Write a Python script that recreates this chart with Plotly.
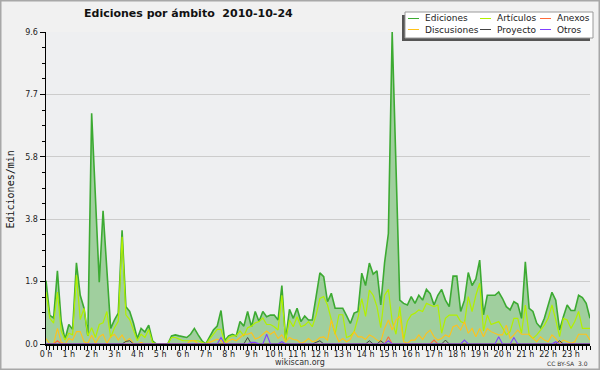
import plotly.graph_objects as go

# ---- data: 10-minute slots over one day (144 slots) ----
slots = [i * 10 for i in range(144)]  # minutes since 00:00

ediciones = [
    1.95, 0.88, 0.80, 2.25, 0.70, 0.14, 0.60, 0.45, 2.50, 1.50, 1.10, 0.25,
    7.10, 4.30, 1.90, 4.10, 2.20, 0.48, 0.74, 0.95, 3.50, 1.15, 1.00, 0.64,
    0.17, 0.48, 0.37, 0.58, 0.10, 0.00, 0.00, 0.00, 0.00, 0.25, 0.28, 0.25,
    0.22, 0.20, 0.30, 0.48, 0.28, 0.10, 0.00, 0.20, 0.43, 0.55, 1.03, 0.10,
    0.25, 0.30, 0.25, 0.69, 0.55, 1.00, 0.53, 1.00, 0.69, 1.00, 0.84, 0.89,
    0.89, 0.74, 1.80, 0.12, 1.07, 0.79, 1.10, 0.69, 0.86, 0.74, 0.74, 1.46,
    2.19, 2.07, 1.30, 1.56, 1.10, 1.10, 1.10, 0.87, 0.63, 0.95, 1.00, 2.18,
    1.80, 2.49, 2.15, 2.25, 1.20, 2.50, 3.40, 9.60, 5.50, 1.35, 1.25, 1.20,
    1.46, 1.25, 1.50, 1.35, 1.68, 1.55, 1.20, 1.50, 1.68, 1.35, 1.15, 2.09,
    2.09, 1.00, 1.35, 2.20, 1.80, 2.00, 2.58, 0.90, 1.50, 1.50, 1.50, 1.60,
    1.40, 1.15, 1.05, 1.30, 1.23, 0.79, 2.53, 1.10, 1.00, 0.64, 0.51, 0.79,
    1.20, 1.59, 1.35, 0.43, 0.84, 1.20, 1.03, 1.03, 1.50, 1.43, 1.25, 0.79,
]

articulos = [
    1.60, 0.79, 0.64, 1.60, 0.40, 0.12, 0.33, 0.28, 2.12, 0.75, 1.10, 0.25,
    0.50, 0.20, 0.60, 0.65, 1.00, 0.20, 0.50, 0.70, 3.30, 0.90, 0.75, 0.40,
    0.10, 0.30, 0.20, 0.45, 0.05, 0.00, 0.00, 0.00, 0.00, 0.20, 0.20, 0.15,
    0.10, 0.10, 0.10, 0.10, 0.10, 0.05, 0.00, 0.15, 0.30, 0.45, 0.45, 0.05,
    0.20, 0.25, 0.25, 0.40, 0.25, 0.50, 0.55, 0.65, 0.69, 0.80, 0.60, 0.60,
    0.53, 0.43, 1.50, 0.12, 0.74, 0.53, 0.84, 0.53, 0.58, 0.69, 0.53, 0.89,
    1.40, 1.46, 1.20, 0.75, 0.30, 0.90, 0.90, 0.20, 0.25, 0.38, 0.80, 1.40,
    0.85, 1.66, 1.50, 1.15, 0.50, 1.50, 1.68, 0.70, 0.30, 1.15, 0.12, 0.70,
    0.89, 0.95, 1.05, 1.00, 1.25, 1.20, 1.15, 1.20, 0.33, 0.79, 0.89, 0.89,
    0.89, 0.69, 0.64, 1.46, 1.00, 1.50, 1.87, 0.40, 0.89, 0.60, 0.65, 0.69,
    0.50, 0.28, 0.38, 0.79, 0.79, 0.33, 1.20, 0.28, 0.17, 0.28, 0.43, 0.58,
    0.79, 1.20, 0.74, 0.23, 0.79, 0.74, 0.48, 0.69, 1.00, 0.48, 0.48, 0.48,
]

discusiones = [
    0.17, 0.00, 0.00, 0.48, 0.05, 0.00, 0.17, 0.12, 0.38, 0.38, 0.07, 0.02,
    0.27, 0.02, 0.22, 0.30, 0.02, 0.22, 0.30, 0.12, 0.28, 0.07, 0.17, 0.02,
    0.00, 0.05, 0.00, 0.00, 0.00, 0.00, 0.00, 0.00, 0.00, 0.00, 0.00, 0.00,
    0.00, 0.00, 0.10, 0.10, 0.00, 0.00, 0.00, 0.05, 0.10, 0.15, 0.10, 0.00,
    0.10, 0.15, 0.10, 0.20, 0.30, 0.30, 0.35, 0.15, 0.20, 0.30, 0.40, 0.30,
    0.38, 0.17, 0.28, 0.07, 0.20, 0.14, 0.12, 0.02, 0.07, 0.17, 0.07, 0.10,
    0.20, 0.22, 0.12, 0.74, 0.33, 0.07, 0.17, 0.07, 0.14, 0.38, 0.22, 0.22,
    0.14, 0.28, 0.22, 0.12, 0.07, 0.48, 0.74, 0.43, 0.74, 0.86, 0.07, 0.02,
    0.12, 0.12, 0.28, 0.14, 0.33, 0.43, 0.22, 0.12, 0.17, 0.28, 0.22, 0.53,
    0.58, 0.43, 0.69, 0.33, 0.48, 0.22, 0.48, 0.22, 0.48, 0.38, 0.33, 0.28,
    0.28, 0.58, 0.17, 0.28, 0.43, 0.30, 0.30, 0.30, 0.17, 0.07, 0.22, 0.12,
    0.07, 0.28, 0.17, 0.02, 0.12, 0.07, 0.02, 0.07, 0.30, 0.30, 0.30, 0.12,
]

anexos = [
    0, 0, 0, 0.10, 0, 0, 0, 0, 0, 0, 0, 0,
    0, 0, 0, 0, 0, 0, 0, 0, 0, 0, 0, 0,
    0, 0, 0, 0, 0, 0, 0, 0, 0, 0, 0, 0,
    0, 0, 0, 0, 0, 0, 0, 0, 0, 0, 0, 0,
    0, 0, 0, 0, 0, 0, 0, 0, 0, 0, 0, 0,
    0, 0, 0, 0, 0, 0, 0, 0, 0, 0, 0, 0,
    0, 0, 0, 0, 0, 0, 0, 0, 0, 0, 0, 0,
    0, 0, 0, 0, 0, 0, 0.22, 0, 0, 0, 0, 0,
    0, 0, 0, 0, 0, 0, 0.12, 0, 0, 0, 0, 0,
    0, 0, 0, 0, 0, 0, 0, 0, 0, 0, 0, 0,
    0, 0, 0, 0, 0, 0, 0, 0, 0, 0, 0, 0,
    0, 0, 0, 0, 0, 0, 0, 0, 0, 0, 0, 0,
]

proyecto = [
    0, 0, 0, 0, 0, 0, 0, 0, 0, 0, 0, 0,
    0, 0, 0, 0, 0, 0, 0, 0, 0, 0.08, 0.10, 0,
    0, 0, 0, 0, 0, 0, 0, 0, 0, 0, 0, 0,
    0, 0, 0, 0, 0, 0, 0, 0, 0, 0, 0, 0,
    0, 0, 0, 0, 0, 0.20, 0, 0, 0, 0, 0, 0,
    0, 0, 0, 0, 0, 0, 0, 0, 0, 0, 0, 0.05,
    0.10, 0, 0, 0, 0, 0, 0, 0, 0, 0, 0, 0,
    0, 0.10, 0, 0, 0.10, 0, 0, 0, 0, 0, 0, 0,
    0, 0, 0, 0, 0, 0, 0, 0, 0, 0.12, 0, 0,
    0, 0, 0, 0, 0, 0, 0, 0, 0, 0, 0, 0,
    0, 0, 0, 0, 0, 0, 0, 0, 0, 0, 0, 0,
    0, 0, 0, 0.10, 0, 0, 0, 0, 0, 0, 0, 0,
]

otros = [
    0, 0, 0, 0, 0, 0, 0, 0, 0, 0, 0, 0,
    0, 0, 0, 0, 0, 0, 0, 0, 0, 0, 0, 0,
    0, 0, 0, 0, 0, 0, 0, 0, 0, 0, 0, 0,
    0, 0, 0, 0, 0, 0, 0, 0, 0, 0, 0.20, 0,
    0, 0, 0, 0, 0, 0, 0.05, 0.05, 0, 0, 0.30, 0,
    0, 0, 0.07, 0, 0, 0, 0, 0, 0, 0, 0, 0,
    0, 0, 0, 0, 0, 0, 0, 0, 0, 0, 0, 0,
    0, 0, 0, 0, 0, 0, 0.10, 0, 0, 0, 0, 0,
    0, 0, 0, 0, 0, 0, 0, 0, 0, 0, 0, 0,
    0, 0, 0.12, 0, 0, 0, 0, 0, 0, 0, 0, 0.22,
    0, 0, 0, 0.20, 0, 0, 0, 0, 0, 0, 0, 0,
    0, 0, 0.07, 0, 0, 0, 0, 0, 0, 0, 0, 0,
]

hour_ticks = [h * 60 for h in range(24)]
hour_labels = [f"{h} h" for h in range(24)]
y_ticks = [0, 1.92, 3.84, 5.76, 7.68, 9.6]
y_labels = ["0.0", "1.9", "3.8", "5.8", "7.7", "9.6"]

series_colors = {
    "Ediciones": "#3caa32",
    "Artículos": "#b2f000",
    "Anexos": "#ff6a3a",
    "Discusiones": "#ffc21a",
    "Proyecto": "#444444",
    "Otros": "#8040ff",
}

# ---- layout geometry ----
W, H = 600, 370
L, R, T, B = 46, 10, 32, 26
PW, PH = W - L - R, H - T - B


def px(x):
    return (x - L) / PW


def py(y):
    return 1 - (y - T) / PH


fig = go.Figure()
fig.add_trace(go.Scatter(
    x=slots, y=ediciones, mode="lines", name="Ediciones",
    line=dict(color=series_colors["Ediciones"], width=1.6),
    fill="tozeroy", fillcolor="#a0cf9e", showlegend=False,
))
for name, vals, w in [("Artículos", articulos, 1.2), ("Discusiones", discusiones, 1.1),
                      ("Anexos", anexos, 1.1), ("Proyecto", proyecto, 1.0),
                      ("Otros", otros, 1.1)]:
    fig.add_trace(go.Scatter(
        x=slots, y=vals, mode="lines", name=name,
        line=dict(color=series_colors[name], width=w), showlegend=False,
    ))

tick_font = dict(family="DejaVu Sans", size=8, color="#222222")

fig.update_layout(
    width=W, height=H,
    margin=dict(l=L, r=R, t=T, b=B, pad=0),
    paper_bgcolor="#f1f1f1",
    plot_bgcolor="#eeeff1",
    showlegend=False,
    xaxis=dict(
        range=[0, 1430], tickmode="array", tickvals=hour_ticks, ticktext=hour_labels,
        ticks="outside", ticklen=4, tickcolor="#000000", tickwidth=1,
        ticklabelstandoff=-2,
        showline=True, linecolor="#000000", linewidth=1.5,
        showgrid=False, zeroline=False, tickfont=tick_font,
        minor=dict(tickmode="linear", tick0=0, dtick=10, ticks="outside",
                   ticklen=4, tickcolor="#000000", tickwidth=1, showgrid=False),
    ),
    yaxis=dict(
        range=[0, 9.6], tickmode="array", tickvals=y_ticks, ticktext=y_labels,
        ticks="outside", ticklen=5, tickcolor="#000000", tickwidth=1,
        showline=True, linecolor="#000000", linewidth=1.5,
        showgrid=True, gridcolor="#cccccc", gridwidth=1, zeroline=False,
        tickfont=tick_font,
        minor=dict(tickmode="linear", tick0=0, dtick=0.48, ticks="outside",
                   ticklen=3, tickcolor="#000000", tickwidth=1, showgrid=False),
    ),
)

shapes = []
annotations = []

# outer border
shapes.append(dict(type="rect", xref="paper", yref="paper",
                   x0=px(0.75), x1=px(W - 0.75), y0=py(0.75), y1=py(H - 0.75),
                   line=dict(color="#a8a8a8", width=1.5), layer="above"))

# title
annotations.append(dict(text="<b>Ediciones por ámbito  2010-10-24</b>", xref="paper", yref="paper",
                        x=px(188), y=py(14), xanchor="center", yanchor="middle", showarrow=False,
                        font=dict(family="DejaVu Sans", size=11, color="#111111")))
# y-axis title
annotations.append(dict(text="Ediciones/min", xref="paper", yref="paper", textangle=-90,
                        x=px(9.5), y=py(190), xanchor="center", yanchor="middle", showarrow=False,
                        font=dict(family="DejaVu Sans Mono", size=10, color="#111111")))
# footer
annotations.append(dict(text="wikiscan.org", xref="paper", yref="paper",
                        x=px(300), y=py(362), xanchor="center", yanchor="middle", showarrow=False,
                        font=dict(family="DejaVu Sans", size=8, color="#333333")))
annotations.append(dict(text="CC BY-SA  3.0", xref="paper", yref="paper",
                        x=px(590), y=py(363), xanchor="right", yanchor="middle", showarrow=False,
                        font=dict(family="DejaVu Sans", size=6, color="#333333")))

# legend box with shadow
shapes.append(dict(type="rect", xref="paper", yref="paper",
                   x0=px(402), x1=px(590), y0=py(15), y1=py(41),
                   fillcolor="#555555", line=dict(width=0), layer="above"))
shapes.append(dict(type="rect", xref="paper", yref="paper",
                   x0=px(405), x1=px(593), y0=py(12), y1=py(38),
                   fillcolor="#ffffff", line=dict(color="#999999", width=1), layer="above"))

legend_layout = [
    ("Ediciones", 408, 18.5), ("Artículos", 480, 18.5), ("Anexos", 540, 18.5),
    ("Discusiones", 408, 29.5), ("Proyecto", 480, 29.5), ("Otros", 540, 29.5),
]
for name, lx, ly in legend_layout:
    shapes.append(dict(type="line", xref="paper", yref="paper",
                       x0=px(lx), x1=px(lx + 11), y0=py(ly), y1=py(ly),
                       line=dict(color=series_colors[name], width=1), layer="above"))
    annotations.append(dict(text=name, xref="paper", yref="paper",
                            x=px(lx + 15), y=py(ly), xanchor="left", yanchor="middle",
                            showarrow=False,
                            font=dict(family="DejaVu Sans", size=9, color="#222222")))

fig.update_layout(shapes=shapes, annotations=annotations)
fig.write_html(
    "out.html",
    config={"displayModeBar": False, "staticPlot": True},
    post_script="document.body.style.margin='0px';document.body.style.overflow='hidden';",
)
